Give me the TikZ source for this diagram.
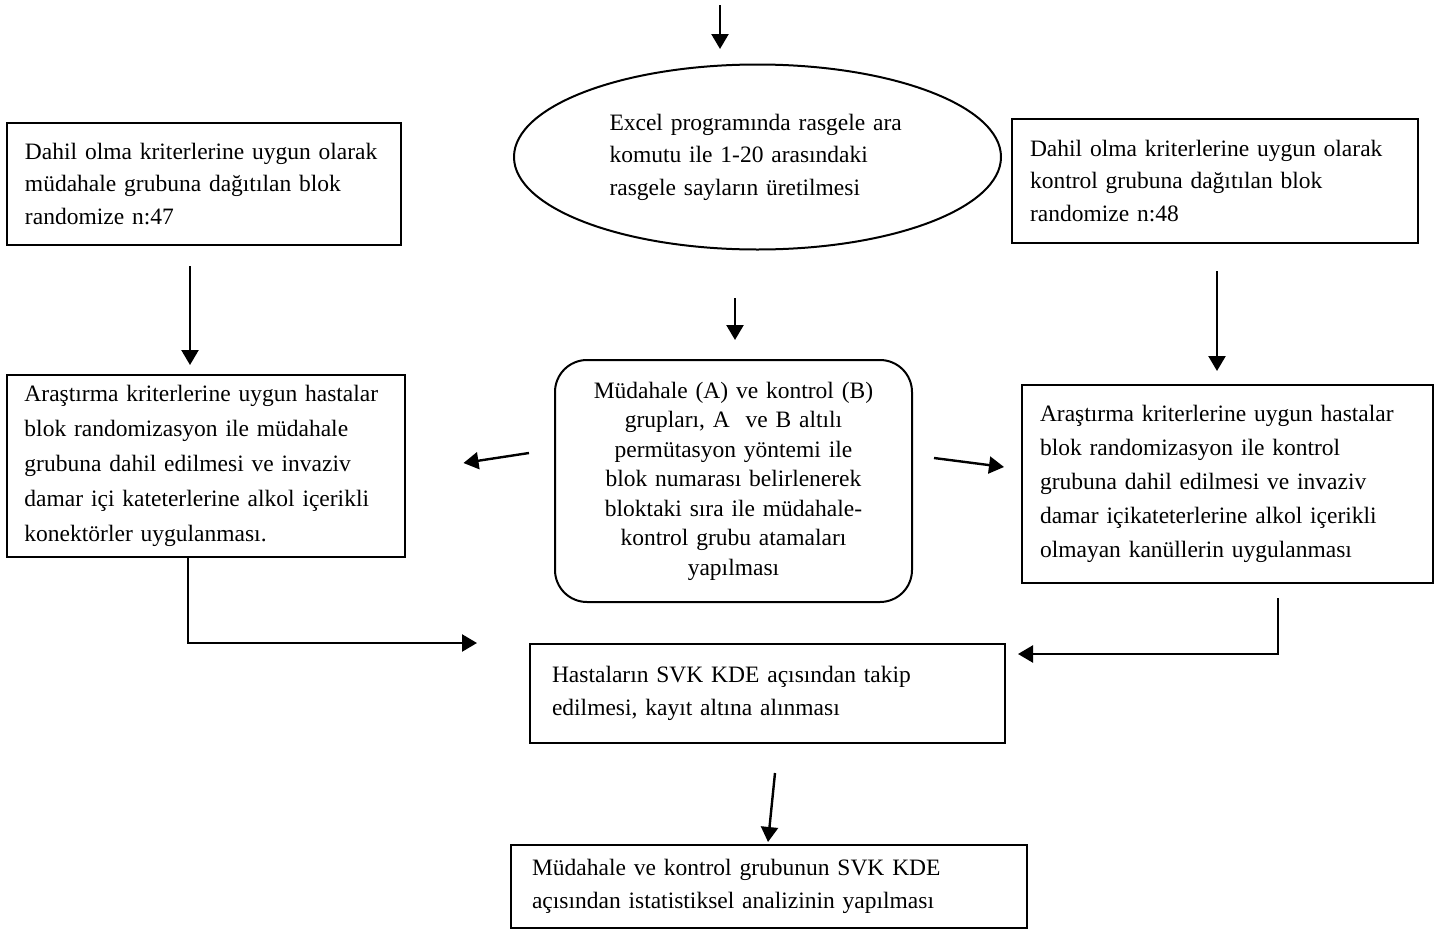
\documentclass[tikz,border=0pt]{standalone}
\usepackage{fontspec}
\setmainfont{Liberation Serif}
\usetikzlibrary{arrows.meta, positioning, shapes.geometric, calc}
\tikzset{
    flow_box/.style={
        rectangle,
        draw=black,
        line width=1pt,
        inner xsep=9pt,
        inner ysep=0pt,
        align=left
    },
    flow_ellipse/.style={
        ellipse,
        draw=black,
        line width=1pt,
        inner sep=0pt,
        align=left
    },
    flow_round/.style={
        rectangle,
        rounded corners=16pt,
        draw=black,
        line width=1pt,
        inner sep=0pt,
        align=center
    },
    flow_arrow/.style={
        -{Triangle[length=7.5pt,width=8.5pt]},
        line width=1.2pt
    }
}

\begin{document}
\begin{tikzpicture}[x=0.5pt, y=-0.5pt,
  every node/.style={font=\fontsize{11.75pt}{16.25pt}\selectfont}]

\useasboundingbox (0,0) rectangle (1448,932);

\coordinate (Start) at (720,5);

\node[flow_ellipse, minimum width=243.5pt, minimum height=92.5pt, text width=148pt] (Excel) at (757.5,157)
  {Excel programında rasgele ara\\komutu ile 1-20 arasındaki\\rasgele sayların üretilmesi};

\node[flow_box, text width=179pt, minimum height=61pt] (InclA) at (204,184)
  {Dahil olma kriterlerine uygun olarak\\müdahale grubuna dağıtılan blok\\randomize n:47};
\node[flow_box, text width=185pt, minimum height=62pt] (InclB) at (1215,181)
  {Dahil olma kriterlerine uygun olarak\\kontrol grubuna dağıtılan blok\\randomize n:48};

\node[flow_box, text width=181pt, minimum height=91pt,
  font=\fontsize{11.75pt}{17.5pt}\selectfont] (ResA) at (205.5,466)
  {Araştırma kriterlerine uygun hastalar\\blok randomizasyon ile müdahale\\grubuna dahil edilmesi ve invaziv\\damar içi kateterlerine alkol içerikli\\konektörler uygulanması.};
\node[flow_round, text width=160pt, minimum width=178.5pt, minimum height=121pt,
  font=\fontsize{11.75pt}{14.75pt}\selectfont] (Assign) at (733.5,481)
  {Müdahale (A) ve kontrol (B)\\grupları, A\ \ ve B altılı\\permütasyon yöntemi ile\\blok numarası belirlenerek\\bloktaki sıra ile müdahale-\\kontrol grubu atamaları\\yapılması};
\node[flow_box, text width=187.5pt, minimum height=99pt,
  font=\fontsize{11.75pt}{17pt}\selectfont] (ResB) at (1227.5,484)
  {Araştırma kriterlerine uygun hastalar\\blok randomizasyon ile kontrol\\grubuna dahil edilmesi ve invaziv\\damar içikateterlerine alkol içerikli\\olmayan kanüllerin uygulanması};

\node[flow_box, inner xsep=11pt, text width=215.5pt, minimum height=49.5pt] (Follow) at (767.5,693.5)
  {Hastaların SVK KDE açısından takip\\edilmesi, kayıt altına alınması};
\node[flow_box, inner xsep=10.5pt, text width=237pt, minimum height=41.5pt] (Stats) at (769,886.5)
  {Müdahale ve kontrol grubunun SVK KDE\\açısından istatistiksel analizinin yapılması};

\draw[flow_arrow, shorten >=7.25pt] (Start) -- (Start |- Excel.north);
\draw[flow_arrow] ([shift={(-14,20)}]InclA.south) -- ([shift={(-15.5,-9)}]ResA.north);
\draw[flow_arrow] ([shift={(2,27)}]InclB.south) -- ([shift={(-10.5,-13)}]ResB.north);
\draw[flow_arrow] ([shift={(-22.5,47.5)}]Excel.south) -- ([shift={(1.5,-19)}]Assign.north);
\draw[flow_arrow] ([shift={(-25,-28)}]Assign.west) -- ([shift={(58,-3)}]ResA.east);
\draw[flow_arrow] ([shift={(21,-23)}]Assign.east) -- ([shift={(-17,-17)}]ResB.west);
\draw[flow_arrow] ([shift={(-17.5,0)}]ResA.south) |- ([shift={(-52,0)}]Follow.north west);
\draw[flow_arrow] ([shift={(50.5,14)}]ResB.south) |- ([shift={(12,11)}]Follow.north east);
\draw[flow_arrow] ([shift={(7.5,29)}]Follow.south) -- ([shift={(-1,-2)}]Stats.north);

\end{tikzpicture}
\end{document}
